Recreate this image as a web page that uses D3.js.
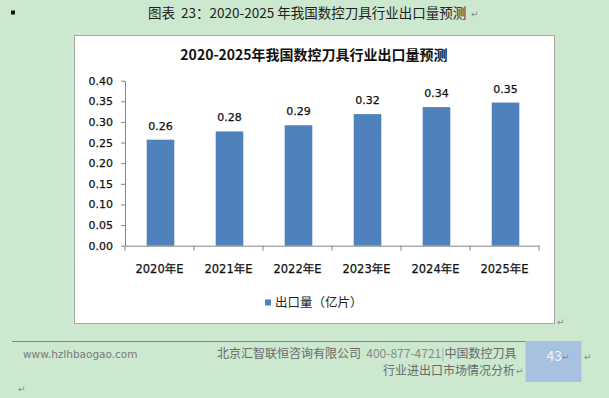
<!DOCTYPE html>
<html>
<head>
<meta charset="utf-8">
<script src="https://cdn.jsdelivr.net/npm/d3@7"></script>
<style>
  html, body { margin: 0; padding: 0; background: #cce8cf; }
  svg { display: block; }
  text { white-space: pre; }
</style>
</head>
<body>
<div id="chart"></div>
<script>
const categories = ['2020年E', '2021年E', '2022年E', '2023年E', '2024年E', '2025年E'];
const exportVolume = [0.257, 0.277, 0.292, 0.319, 0.336, 0.347];
const yTicks = [0, 0.05, 0.1, 0.15, 0.2, 0.25, 0.3, 0.35, 0.4];
const seriesName = '出口量（亿片）';
const chartTitle = '2020-2025年我国数控刀具行业出口量预测';
const docCaption = '图表  23：2020-2025 年我国数控刀具行业出口量预测';

const W = 609, H = 398;
const cjk = '"Noto Sans CJK SC", "Noto Sans", sans-serif';
const latin = '"DejaVu Sans", "Noto Sans CJK SC", sans-serif';

const svg = d3.select('#chart').append('svg')
    .attr('width', W)
    .attr('height', H);

// page decoration (word document look)
svg.append('rect')
    .attr('x', 11).attr('y', 10.5).attr('width', 4).attr('height', 4)
    .attr('fill', '#111');

svg.append('text')
    .attr('x', 148).attr('y', 17.5)
    .attr('font-family', cjk).attr('font-size', 13.5)
    .attr('fill', '#222')
    .text(docCaption);

const paraMark = (x, y) => svg.append('text')
    .attr('x', x).attr('y', y)
    .attr('font-family', latin).attr('font-size', 9)
    .attr('fill', '#888')
    .text('↵');

paraMark(471, 17);

// chart frame
const frame = { x: 74, y: 35, w: 480, h: 288 };
svg.append('rect')
    .attr('x', frame.x + 0.5).attr('y', frame.y + 0.5)
    .attr('width', frame.w).attr('height', frame.h)
    .attr('fill', '#fff')
    .attr('stroke', '#a6a6a6');

paraMark(557, 325);

svg.append('text')
    .attr('x', frame.x + frame.w / 2).attr('y', 60)
    .attr('text-anchor', 'middle')
    .attr('font-family', cjk).attr('font-size', 14).attr('font-weight', 'bold')
    .attr('fill', '#111')
    .text(chartTitle);

const plot = { left: 125, right: 539, top: 80.7, bottom: 245.7 };

const x = d3.scaleBand()
    .domain(categories)
    .range([plot.left, plot.right])
    .paddingInner(0.6)
    .paddingOuter(0.3);

const y = d3.scaleLinear()
    .domain([0, 0.4])
    .range([plot.bottom, plot.top]);

const g = svg.append('g');

// bars
g.selectAll('.bar')
    .data(exportVolume)
    .enter()
    .append('rect')
    .attr('class', 'bar')
    .attr('x', (d, i) => x(categories[i]) + 1)
    .attr('y', (d) => y(d))
    .attr('width', x.bandwidth())
    .attr('height', (d) => plot.bottom - y(d))
    .attr('fill', '#4f81bd');

g.selectAll('.val')
    .data(exportVolume)
    .enter()
    .append('text')
    .attr('class', 'val')
    .attr('x', (d, i) => x(categories[i]) + 1 + x.bandwidth() / 2)
    .attr('y', (d) => y(d) - 10)
    .attr('text-anchor', 'middle')
    .attr('font-family', latin).attr('font-size', 11)
    .attr('fill', '#111')
    .attr('stroke', '#111').attr('stroke-width', 0.25)
    .text((d) => d3.format('.2f')(d));

// y axis
const yAxis = g.append('g')
    .attr('transform', `translate(${plot.left},0)`)
    .call(d3.axisLeft(y).tickValues(yTicks).tickSize(4).tickPadding(8)
        .tickFormat(d3.format('.2f')).tickSizeOuter(0));

// x axis
const xAxis = g.append('g')
    .attr('transform', `translate(0,${plot.bottom})`)
    .call(d3.axisBottom(x).tickSize(0).tickPadding(19).tickSizeOuter(0));

// category boundary ticks
const step = x.step();
xAxis.selectAll('.bound')
    .data(d3.range(categories.length + 1))
    .enter()
    .append('line')
    .attr('class', 'bound')
    .attr('x1', (i) => plot.left + i * step)
    .attr('x2', (i) => plot.left + i * step)
    .attr('y1', 0).attr('y2', 5)
    .attr('stroke', '#868686');

[yAxis, xAxis].forEach((ax) => {
    ax.select('.domain').attr('stroke', '#868686');
    ax.selectAll('.tick line').attr('stroke', '#868686');
    ax.selectAll('.tick text')
        .attr('font-family', latin).attr('font-size', 11)
        .attr('fill', '#111')
        .attr('stroke', '#111').attr('stroke-width', 0.25);
});
xAxis.selectAll('.tick text').attr('font-size', 11.5);

// legend
const legend = svg.append('g').attr('transform', 'translate(265,299.5)');
legend.append('rect')
    .attr('width', 6).attr('height', 6)
    .attr('fill', '#4f81bd');
legend.append('text')
    .attr('x', 10).attr('y', 7.5)
    .attr('font-family', cjk).attr('font-size', 12.5)
    .attr('fill', '#222')
    .text(seriesName);

// footer
svg.append('line')
    .attr('x1', 12).attr('x2', 526)
    .attr('y1', 341.5).attr('y2', 341.5)
    .attr('stroke', '#7f8a80');

svg.append('rect')
    .attr('x', 525.5).attr('y', 341)
    .attr('width', 56).attr('height', 41)
    .attr('fill', '#a9c1e1');

svg.append('text')
    .attr('x', 546.5).attr('y', 361)
    .attr('font-family', cjk).attr('font-size', 14)
    .attr('fill', '#eef3fb')
    .text('43');
paraMark(562, 360);
paraMark(584, 360);

svg.append('text')
    .attr('x', 23).attr('y', 358)
    .attr('font-family', latin).attr('font-size', 10.5)
    .attr('fill', '#7a7a7a')
    .text('www.hzlhbaogao.com');

const foot = svg.append('text')
    .attr('x', 516.5).attr('y', 358)
    .attr('text-anchor', 'end')
    .attr('font-family', cjk).attr('font-size', 12)
    .attr('fill', '#6a6a6a');
foot.append('tspan').text('北京汇智联恒咨询有限公司  ');
foot.append('tspan').attr('fill', '#8a8a8a').text('400-877-4721');
foot.append('tspan').attr('fill', '#aaaaaa').text('|');
foot.append('tspan').text('中国数控刀具');

svg.append('text')
    .attr('x', 515).attr('y', 374.5)
    .attr('text-anchor', 'end')
    .attr('font-family', cjk).attr('font-size', 12)
    .attr('fill', '#6a6a6a')
    .text('行业进出口市场情况分析');
paraMark(516, 374);

paraMark(18, 392);
</script>
</body>
</html>
